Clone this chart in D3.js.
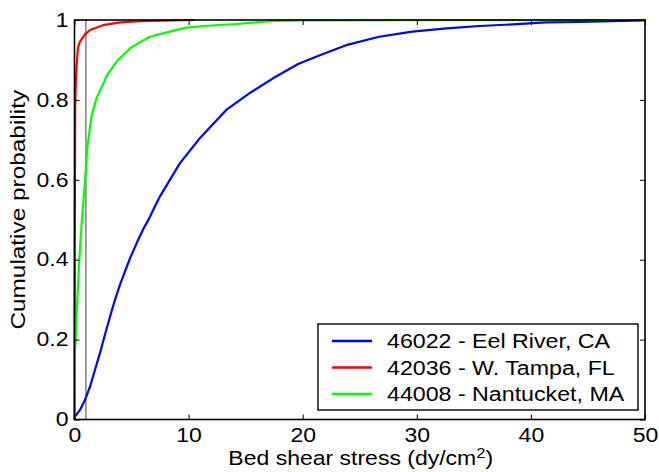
<!DOCTYPE html>
<html>
<head>
<meta charset="utf-8">
<script src="https://cdn.jsdelivr.net/npm/d3@7"></script>
<style>
  body { margin: 0; background: #fff; }
  text { font-family: "Liberation Sans", Arial, sans-serif; fill: #000; }
</style>
</head>
<body>
<div id="chart"></div>
<script>
// cumulative distributions: [stress, probability]
var eelRiver = [[0,0],[0.04,0.007],[0.48,0.024],[0.92,0.049],[1.36,0.082],[1.79,0.124],[2.23,0.166],
  [2.67,0.212],[3.11,0.257],[3.54,0.299],[3.98,0.337],[4.42,0.37],[4.86,0.403],[5.44,0.441],
  [6.02,0.476],[6.46,0.499],[7.48,0.558],[9.23,0.641],[10.98,0.704],[13.3,0.775],[15.35,0.817],
  [17.4,0.854],[19.6,0.89],[21.5,0.912],[23.8,0.937],[26.7,0.958],[29.6,0.971],[32.6,0.979],
  [35.5,0.985],[38.4,0.989],[41.3,0.994],[44.2,0.995],[47.1,0.997],[50,0.999]];
var wTampa = [[0,0],[0,0.15],[0.03,0.5],[0.06,0.78],[0.12,0.85],[0.19,0.887],[0.3,0.93],
  [0.48,0.946],[0.92,0.964],[1.36,0.975],[2.5,0.987],[4,0.994],[5.8,0.997],[10.5,1]];
var nantucket = [[0,0],[0,0.16],[0.1,0.2],[0.25,0.3],[0.42,0.4],[0.65,0.5],[0.92,0.595],
  [1.12,0.68],[1.5,0.76],[1.94,0.805],[2.9,0.864],[3.8,0.9],[5,0.932],[6.6,0.958],[8.35,0.971],
  [9.8,0.981],[11.3,0.985],[14.2,0.99],[17.1,0.997],[20,0.999],[30,0.9995],[46.7,1]];

var seriesNames = ["46022 - Eel River, CA", "42036 - W. Tampa, FL", "44008 - Nantucket, MA"];
var seriesColors = ["#0000ff", "#ff0000", "#00ff00"];
var xTicks = [0, 10, 20, 30, 40, 50];
var yTicks = [0, 0.2, 0.4, 0.6, 0.8, 1];
var refLine = 1; // grey marker at 1 dy/cm2

var margin = { top: 20, right: 14, bottom: 52.5, left: 74.5 },
    width = 659 - margin.left - margin.right,
    height = 472 - margin.top - margin.bottom;

// the original figure's text is a bit wider than Arial, so stretch it sideways
var sx = 1.18;

var svg = d3.select("#chart")
    .append("svg")
    .attr("width", 659)
    .attr("height", 472)
    .append("g")
    .attr("transform", "translate(" + margin.left + "," + margin.top + ")");

var x = d3.scaleLinear().domain([0, 50]).range([0, width]);
var y = d3.scaleLinear().domain([0, 1]).range([height, 0]);

// grey reference line
svg.append("line")
    .attr("x1", x(refLine)).attr("x2", x(refLine))
    .attr("y1", y(0)).attr("y2", y(1))
    .attr("stroke", "#808080")
    .attr("stroke-width", 1.5);

var line = d3.line()
    .x(function (d) { return x(d[0]); })
    .y(function (d) { return y(d[1]); });

var allSeries = [eelRiver, wTampa, nantucket];
allSeries.forEach(function (s, i) {
    svg.append("path")
        .datum(s)
        .attr("fill", "none")
        .attr("stroke", seriesColors[i])
        .attr("stroke-width", 2.2)
        .attr("stroke-linejoin", "round")
        .attr("d", line);
});

// axes, MATLAB style: ticks pointing inward on all four sides
var tickLen = 5;
svg.append("g")
    .attr("transform", "translate(0," + height + ")")
    .call(d3.axisBottom(x).tickValues(xTicks).tickSizeInner(-tickLen).tickSizeOuter(0).tickPadding(8.5))
    .call(function (g) { g.select(".domain").remove(); })
    .selectAll("text")
    .style("font-size", "19.5px")
    .attr("transform", "scale(" + sx + ",1)");
svg.append("g")
    .call(d3.axisTop(x).tickValues(xTicks).tickSizeInner(-tickLen).tickSizeOuter(0).tickFormat(""))
    .call(function (g) { g.select(".domain").remove(); });
svg.append("g")
    .call(d3.axisLeft(y).tickValues(yTicks).tickSizeInner(-tickLen).tickSizeOuter(0)
        .tickFormat(function (d) { return d === 0 || d === 1 ? d : d3.format(".1f")(d); }))
    .call(function (g) { g.select(".domain").remove(); })
    .selectAll("text")
    .style("font-size", "19.5px")
    .attr("x", -6 / sx)
    .attr("transform", "scale(" + sx + ",1)");
svg.append("g")
    .attr("transform", "translate(" + width + ",0)")
    .call(d3.axisRight(y).tickValues(yTicks).tickSizeInner(-tickLen).tickSizeOuter(0).tickFormat(""))
    .call(function (g) { g.select(".domain").remove(); });

svg.selectAll(".tick line").attr("stroke", "#000");

// frame
svg.append("rect")
    .attr("width", width)
    .attr("height", height)
    .attr("fill", "none")
    .attr("stroke", "#000")
    .attr("stroke-width", 1.6);

// axis labels
var xl = svg.append("text")
    .attr("text-anchor", "middle")
    .attr("transform", "translate(" + (width / 2 + 1) + "," + (height + 45) + ") scale(" + sx + ",1)")
    .style("font-size", "19.5px")
    .text("Bed shear stress (dy/cm");
xl.append("tspan").attr("baseline-shift", "45%").style("font-size", "14px").text("2");
xl.append("tspan").text(")");

svg.append("text")
    .attr("text-anchor", "middle")
    .attr("transform", "translate(" + (-margin.left + 24.5) + "," + (height / 2 - 10) + ") rotate(-90) scale(1.25,1)")
    .style("font-size", "19.5px")
    .text("Cumulative probability");

// legend
var lg = svg.append("g")
    .attr("transform", "translate(" + (318 - margin.left) + "," + (324 - margin.top) + ")");
lg.append("rect")
    .attr("width", 320)
    .attr("height", 86)
    .attr("fill", "#fff")
    .attr("stroke", "#000")
    .attr("stroke-width", 1.4);
seriesNames.forEach(function (name, i) {
    var ly = 17 + i * 26.5;
    lg.append("line")
        .attr("x1", 14).attr("x2", 54)
        .attr("y1", ly).attr("y2", ly)
        .attr("stroke", seriesColors[i])
        .attr("stroke-width", 2.5);
    lg.append("text")
        .attr("transform", "translate(69," + (ly + 7) + ") scale(1.19,1)")
        .style("font-size", "19.5px")
        .text(name);
});
</script>
</body>
</html>
